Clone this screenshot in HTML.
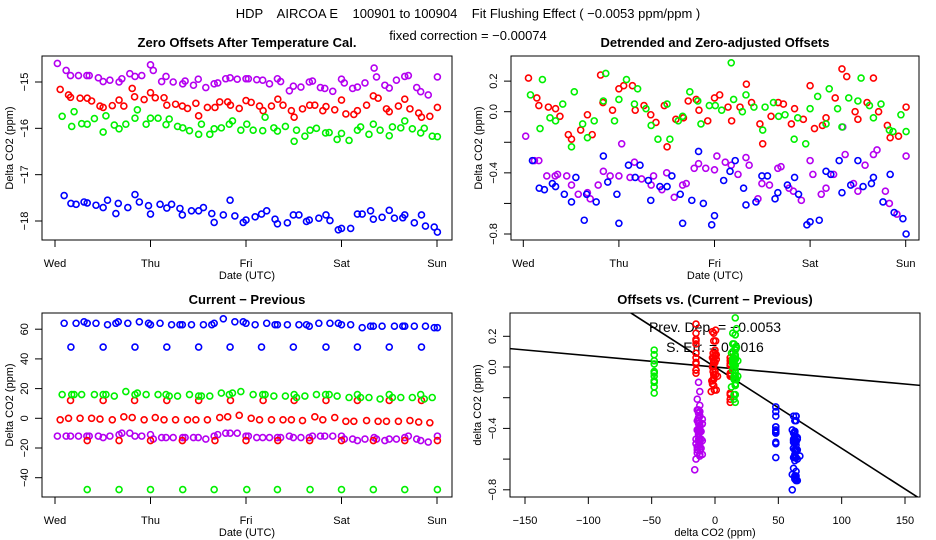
<!DOCTYPE html>
<html><head><meta charset="utf-8"><style>
html,body{margin:0;padding:0;background:#fff;}
svg{display:block;font-family:"Liberation Sans",sans-serif;}
.pre{white-space:pre;}
</style></head><body>
<svg id="c" width="936" height="540" viewBox="0 0 936 540" xmlns="http://www.w3.org/2000/svg">
<text class="pre" xml:space="preserve" x="468" y="18" text-anchor="middle" font-size="13">HDP    AIRCOA E    100901 to 100904    Fit Flushing Effect ( −0.0053 ppm/ppm )</text>
<text x="468" y="40" text-anchor="middle" font-size="13">fixed correction = −0.00074</text>
</svg>
<script>
const purpleHours=[0.6,2.8,3.9,5.9,8.0,8.6,10.9,12.1,13.8,16.1,16.8,18.8,20.1,21.8,24.0,24.7,26.8,27.9,29.7,32.1,32.7,34.8,36.0,37.9,40.0,40.9,42.9,44.0,45.8,48.0,48.6,50.7,52.2,53.9,55.9,56.7,58.9,59.9,61.8,63.9,64.7,66.7,67.8,69.8,72.0,72.7,74.8,76.0,77.9,80.2,80.8,82.9,84.0,85.8,87.9,88.8,90.9,91.9,93.8,96.1];
const purpleOffsets=[-14.60,-14.75,-14.86,-14.86,-14.86,-14.86,-14.91,-14.99,-14.96,-15.00,-14.93,-14.82,-14.88,-14.86,-14.63,-14.75,-14.99,-14.88,-15.00,-15.04,-14.98,-15.07,-14.94,-15.12,-15.04,-15.02,-14.93,-14.91,-14.94,-14.93,-14.93,-14.95,-14.96,-15.04,-14.93,-14.99,-15.19,-15.09,-15.11,-15.00,-14.98,-15.12,-15.14,-15.20,-14.94,-15.02,-15.14,-15.11,-15.02,-14.70,-14.89,-15.07,-15.13,-14.96,-14.88,-14.86,-15.12,-15.21,-15.28,-14.89];
const purpleDetrended=[-0.16,-0.32,-0.32,-0.42,-0.42,-0.41,-0.42,-0.48,-0.54,-0.53,-0.57,-0.48,-0.39,-0.42,-0.42,-0.21,-0.43,-0.33,-0.44,-0.48,-0.42,-0.51,-0.40,-0.56,-0.48,-0.47,-0.37,-0.34,-0.37,-0.38,-0.29,-0.33,-0.35,-0.41,-0.30,-0.35,-0.57,-0.47,-0.48,-0.37,-0.36,-0.50,-0.52,-0.58,-0.32,-0.41,-0.54,-0.50,-0.41,-0.10,-0.28,-0.47,-0.52,-0.35,-0.28,-0.25,-0.52,-0.60,-0.67,-0.29];
const purpleDiff=[-12,-12,-12,-12,-12,-12,-12,-13,-12,-11,-10,-10,-12,-12,-11,-14,-13,-13,-13,-13,-13,-13,-13,-14,-12,-11,-10,-10,-10,-12,-12,-13,-13,-13,-13,-13,-12,-13,-13,-13,-12,-12,-12,-12,-12,-14,-14,-15,-14,-13,-14,-15,-14,-14,-13,-12,-14,-15,-16,-12];

const redHours=[1.3,3.4,3.9,6.3,8.1,9.2,11.3,12.1,14.4,16.1,17.3,19.4,20.0,22.4,24.0,25.2,27.4,28.1,30.3,32.0,33.3,35.4,36.1,38.3,40.2,41.4,43.4,44.1,46.3,48.0,49.3,51.4,52.3,54.4,56.0,57.3,59.4,60.1,62.2,64.0,65.3,67.3,68.1,70.3,72.0,73.1,75.1,76.0,78.3,80.0,81.2,83.3,84.0,86.3,87.9,89.2,91.4,92.1,94.2,96.1];
const redOffsets=[-15.16,-15.28,-15.33,-15.35,-15.35,-15.41,-15.52,-15.55,-15.51,-15.39,-15.52,-15.14,-15.32,-15.38,-15.23,-15.34,-15.34,-15.50,-15.48,-15.52,-15.57,-15.46,-15.73,-15.55,-15.55,-15.43,-15.43,-15.50,-15.57,-15.40,-15.44,-15.52,-15.62,-15.52,-15.37,-15.50,-15.62,-15.76,-15.58,-15.50,-15.50,-15.62,-15.53,-15.60,-15.39,-15.69,-15.70,-15.62,-15.50,-15.30,-15.35,-15.58,-15.64,-15.52,-15.37,-15.58,-15.67,-15.76,-15.74,-15.55];
const redDetrended=[0.22,0.09,0.04,0.03,0.02,-0.03,-0.15,-0.18,-0.12,-0.02,-0.15,0.24,0.06,0.01,0.15,0.17,0.17,0.01,0.04,-0.02,-0.07,0.04,-0.23,-0.05,-0.04,0.07,0.08,0.01,-0.06,0.09,0.11,0.03,-0.06,0.03,0.18,0.06,-0.08,-0.21,-0.03,0.06,0.05,-0.08,0.02,-0.05,0.17,-0.11,-0.09,-0.04,0.09,0.28,0.23,0.00,-0.05,0.06,0.22,0.00,-0.09,-0.17,-0.16,0.03];
const redDiff=[-1,0,12,0,-15,0,-0.5,12,-1,-15,1,0.5,12,-1,-15,0.5,-1,12,-1,-15,-1,-1,12,-1,-15,0.5,1,12,2,-15,0,-1,12,-1,-15,-1,-1,12,-1.5,-15,1,-1,12,0.5,-15,-2,-2,12,-1.5,-15,-2,-2,12,-2,-15,-1.5,-2.5,12,-3,-15];

const greenHours=[1.8,4.2,4.8,6.7,8.1,9.9,12.1,12.8,14.9,16.1,17.8,20.1,20.7,22.9,24.0,25.9,27.9,28.7,30.8,32.1,33.8,36.1,36.8,38.9,40.0,41.8,43.8,44.6,46.7,48.2,49.8,52.2,52.8,55.0,55.9,57.9,60.1,60.7,62.8,64.1,65.7,68.0,68.9,70.9,72.0,73.9,76.0,76.8,78.9,80.0,81.7,84.0,84.8,86.9,87.9,89.8,91.9,92.8,94.8,96.1];
const greenOffsets=[-15.74,-15.96,-15.64,-15.90,-15.91,-15.79,-16.08,-15.73,-15.93,-16.01,-15.91,-15.78,-15.60,-15.91,-15.78,-15.78,-15.92,-15.80,-15.96,-15.99,-16.05,-16.13,-15.91,-16.13,-16.01,-15.99,-15.91,-15.84,-16.04,-15.91,-16.04,-16.05,-15.76,-15.99,-16.06,-15.96,-16.28,-16.04,-16.17,-16.04,-16.00,-16.10,-16.09,-16.24,-16.11,-16.26,-16.04,-15.97,-16.13,-15.91,-16.04,-16.16,-15.97,-15.99,-15.84,-16.01,-16.10,-16.00,-16.17,-16.18];
const greenDetrended=[0.11,-0.11,0.21,-0.04,-0.06,0.05,-0.23,0.13,-0.08,-0.17,-0.06,0.07,0.25,-0.06,0.08,0.21,0.05,0.15,0.02,-0.09,-0.18,0.05,-0.18,-0.06,-0.03,0.13,0.07,-0.08,0.04,0.04,0.01,0.32,0.08,0.00,0.11,0.03,-0.12,0.03,0.06,-0.03,-0.02,-0.18,-0.04,-0.21,0.02,0.10,-0.08,0.15,0.02,-0.10,0.09,0.07,0.22,0.04,-0.04,0.05,-0.12,-0.13,-0.02,-0.13];
const greenDiff=[16,16,16,16,-48,16,16,16,15,-48,18,16,17,16,-48,16,16,15,15,-48,16,15,15,15,-48,17,16,17,18,-48,16,16,16,15,-48,15,16,14,15,-48,16,16,16,15,-48,14,16,14,14,-48,13,16,14,14,-48,14,16,13,14,-48];

const blueHours=[2.3,4.0,5.3,7.3,8.1,10.3,12.1,13.2,15.3,15.9,18.3,20.1,21.2,23.5,24.0,26.4,28.1,29.3,31.4,32.0,34.3,36.1,37.3,39.4,40.0,42.3,44.0,45.2,47.3,48.0,50.3,51.9,53.2,55.3,55.9,58.4,59.9,61.3,63.2,63.9,66.3,68.1,69.1,71.2,72.0,74.3,76.0,77.2,79.3,80.0,82.2,84.0,85.3,87.4,87.9,90.3,92.1,93.1,95.3,96.1];
const blueOffsets=[-17.45,-17.62,-17.64,-17.59,-17.61,-17.66,-17.71,-17.55,-17.84,-17.62,-17.71,-17.43,-17.59,-17.67,-17.85,-17.64,-17.72,-17.64,-17.73,-17.87,-17.78,-17.78,-17.71,-17.84,-18.03,-17.87,-17.55,-17.89,-18.03,-17.98,-17.91,-17.85,-17.78,-17.96,-18.06,-18.04,-17.87,-17.87,-18.01,-17.98,-17.94,-17.87,-17.99,-18.19,-18.16,-18.16,-17.85,-17.85,-17.78,-17.96,-17.92,-17.77,-17.94,-17.93,-17.87,-18.04,-17.87,-18.11,-18.13,-18.24];
const blueDetrended=[-0.32,-0.50,-0.51,-0.47,-0.49,-0.54,-0.59,-0.43,-0.71,-0.54,-0.59,-0.29,-0.46,-0.54,-0.73,-0.35,-0.43,-0.35,-0.45,-0.58,-0.49,-0.49,-0.42,-0.54,-0.73,-0.58,-0.26,-0.60,-0.74,-0.68,-0.45,-0.39,-0.32,-0.50,-0.61,-0.59,-0.42,-0.42,-0.57,-0.53,-0.48,-0.43,-0.54,-0.74,-0.72,-0.71,-0.39,-0.41,-0.32,-0.53,-0.48,-0.32,-0.49,-0.47,-0.43,-0.59,-0.41,-0.66,-0.70,-0.80];
const blueDiff=[64,48,64,65,64,64,48,63,64,65,64,48,65,64,63,64,48,63,63,63,63,48,63,63,64,67,48,65,65,64,63,48,64,63,63,63,48,63,63,62,64,48,64,64,63,63,48,61,62,62,62,48,62,62,62,62,48,62,61,61];

const dayLabels=["Wed","Thu","Fri","Sat","Sun"];
const dayTickHours=[0,24,48,72,96];
const p1Ticks=[-15,-16,-17,-18];
const p2Ticks=[0.2,0.0,-0.2,-0.4,-0.6,-0.8];
const p2Labels=["0.2","0.0","","−0.4","","−0.8"];
const p3Ticks=[60,40,20,0,-20,-40];
const p4XTicks=[-150,-100,-50,0,50,100,150];
const p4YTicks=[0.2,0.0,-0.2,-0.4,-0.6,-0.8];
const fitSlope=[-0.0053];
const fixedSlope=[-0.00074];

const NS="http://www.w3.org/2000/svg";
const svg=document.getElementById('c');
function mk(tag,attrs,parent){const e=document.createElementNS(NS,tag);for(const k in attrs)e.setAttribute(k,attrs[k]);(parent||svg).appendChild(e);return e;}
function lin(d0,d1,r0,r1){return v=>r0+(v-d0)*(r1-r0)/(d1-d0);}
function neg(s){return String(s).replace('-','−');}

const series=[
 {name:'purple',color:'#b400f0',h:purpleHours,o:purpleOffsets,d:purpleDetrended,c:purpleDiff},
 {name:'red',color:'#ff0000',h:redHours,o:redOffsets,d:redDetrended,c:redDiff},
 {name:'green',color:'#00f000',h:greenHours,o:greenOffsets,d:greenDetrended,c:greenDiff},
 {name:'blue',color:'#0000ff',h:blueHours,o:blueOffsets,d:blueDetrended,c:blueDiff}
];

function panel(id,box,title,xlab,ylab){
  const g=mk('g',{});
  
  
  const t=mk('text',{x:(box.l+box.r)/2,y:box.t-9,'text-anchor':'middle','font-size':13,'font-weight':'bold'},g);
  t.textContent=title;
  
  
  const xl=mk('text',{x:(box.l+box.r)/2,y:box.b+39,'text-anchor':'middle','font-size':11},g);
  xl.textContent=xlab;
  
  
  const cy=(box.t+box.b)/2;
  const yl=mk('text',{x:box.l-29,y:cy,'text-anchor':'middle','font-size':11,transform:`rotate(-90 ${box.l-29} ${cy})`},g);
  yl.textContent=ylab;
  
  
  return g;
}
function frame(g,id,box){
  const r=mk('rect',{x:box.l,y:box.t,width:box.r-box.l,height:box.b-box.t,fill:'none',stroke:'#000','stroke-width':1},g);
  
  
}
function xAxis(g,id,box,ticks,labels,X){
  const a=mk('g',{},g);
  
  
  const x0=X(ticks[0]),x1=X(ticks[ticks.length-1]);
  mk('line',{x1:x0,x2:x1,y1:box.b,y2:box.b,stroke:'#000'},a);
  ticks.forEach((v,i)=>{
    const x=X(v);
    mk('line',{x1:x,x2:x,y1:box.b,y2:box.b+7,stroke:'#000'},a);
    const t=mk('text',{x:x,y:box.b+27,'text-anchor':'middle','font-size':11},a);
    t.textContent=labels[i];
    
    
  });
}
function yAxis(g,id,box,ticks,labels,Y){
  const a=mk('g',{},g);
  
  
  const y0=Y(ticks[0]),y1=Y(ticks[ticks.length-1]);
  mk('line',{x1:box.l,x2:box.l,y1:y0,y2:y1,stroke:'#000'},a);
  ticks.forEach((v,i)=>{
    const y=Y(v);
    mk('line',{x1:box.l-7,x2:box.l,y1:y,y2:y,stroke:'#000'},a);
    if(labels[i]!==''){
      const tx=box.l-14;
      const t=mk('text',{x:tx,y:y,'text-anchor':'middle','font-size':11,transform:`rotate(-90 ${tx} ${y})`},a);
      t.textContent=labels[i];
      
      
    }
  });
}
function points(g,id,xs,ys,X,Y,color){
  const s=mk('g',{},g);
  
  
  for(let i=0;i<xs.length;i++){
    const c=mk('circle',{cx:X(xs[i]),cy:Y(ys[i]),r:3,fill:'none',stroke:color,'stroke-width':1.6},s);
    
    
  }
}

{
  const box={l:42,r:452,t:56,b:240};
  const X=lin(0,96,55,437), Y=lin(-15,-18,82,221);
  const g=panel('zero-offsets-panel',box,'Zero Offsets After Temperature Cal.','Date (UTC)','Delta CO2 (ppm)');
  xAxis(g,'zero-offsets',box,dayTickHours,dayLabels,X);
  yAxis(g,'zero-offsets',box,p1Ticks,p1Ticks.map(neg),Y);
  series.forEach(s=>points(g,'offsets-'+s.name,s.h,s.o,X,Y,s.color));
  frame(g,'zero-offsets',box);
}
{
  const box={l:511,r:919,t:56,b:240};
  const X=lin(0,96,523.3,905.7), Y=lin(0,-0.8,111.7,234);
  const g=panel('detrended-panel',box,'Detrended and Zero-adjusted Offsets','Date (UTC)','Delta CO2 (ppm)');
  xAxis(g,'detrended',box,dayTickHours,dayLabels,X);
  yAxis(g,'detrended',box,p2Ticks,p2Labels,Y);
  series.forEach(s=>points(g,'detrended-'+s.name,s.h,s.d,X,Y,s.color));
  frame(g,'detrended',box);
}
{
  const box={l:42,r:452,t:313,b:497};
  const X=lin(0,96,55,437), Y=lin(0,60,418.3,329.2);
  const g=panel('current-previous-panel',box,'Current − Previous','Date (UTC)','Delta CO2 (ppm)');
  xAxis(g,'current-previous',box,dayTickHours,dayLabels,X);
  yAxis(g,'current-previous',box,p3Ticks,p3Ticks.map(neg),Y);
  series.forEach(s=>points(g,'diff-'+s.name,s.h,s.c,X,Y,s.color));
  frame(g,'current-previous',box);
}
{
  const box={l:510,r:920,t:313,b:497};
  const X=lin(0,150,715,905), Y=lin(0,-0.8,367,489.8);
  const g=panel('offsets-vs-diff-panel',box,'Offsets vs. (Current − Previous)','delta CO2 (ppm)','delta CO2 (ppm)');
  xAxis(g,'offsets-vs-diff',box,p4XTicks,p4XTicks.map(neg),X);
  yAxis(g,'offsets-vs-diff',box,p4YTicks,["0.2","0.0","","−0.4","","−0.8"],Y);
  const cp=mk('clipPath',{id:'clip4'},g);
  mk('rect',{x:box.l,y:box.t,width:box.r-box.l,height:box.b-box.t},cp);
  const t1=mk('text',{x:715,y:332,'text-anchor':'middle','font-size':14},g);
  t1.textContent='Prev. Dep. =  −0.0053';
  
  
  const t2=mk('text',{x:715,y:352,'text-anchor':'middle','font-size':14},g);
  t2.textContent='S. Err. =  0.0016';
  
  
  const lg=mk('g',{'clip-path':'url(#clip4)'},g);
  
  
  [[fixedSlope[0],'fixed-correction-line'],[fitSlope[0],'fit-line']].forEach(([m,n])=>{
    const l=mk('line',{x1:X(-170),y1:Y(m*-170),x2:X(170),y2:Y(m*170),stroke:'#000','stroke-width':1.6},lg);
    
    
  });
  series.forEach(s=>points(g,'scatter-'+s.name,s.c,s.d,X,Y,s.color));
  frame(g,'offsets-vs-diff',box);
}
</script>
</body></html>
